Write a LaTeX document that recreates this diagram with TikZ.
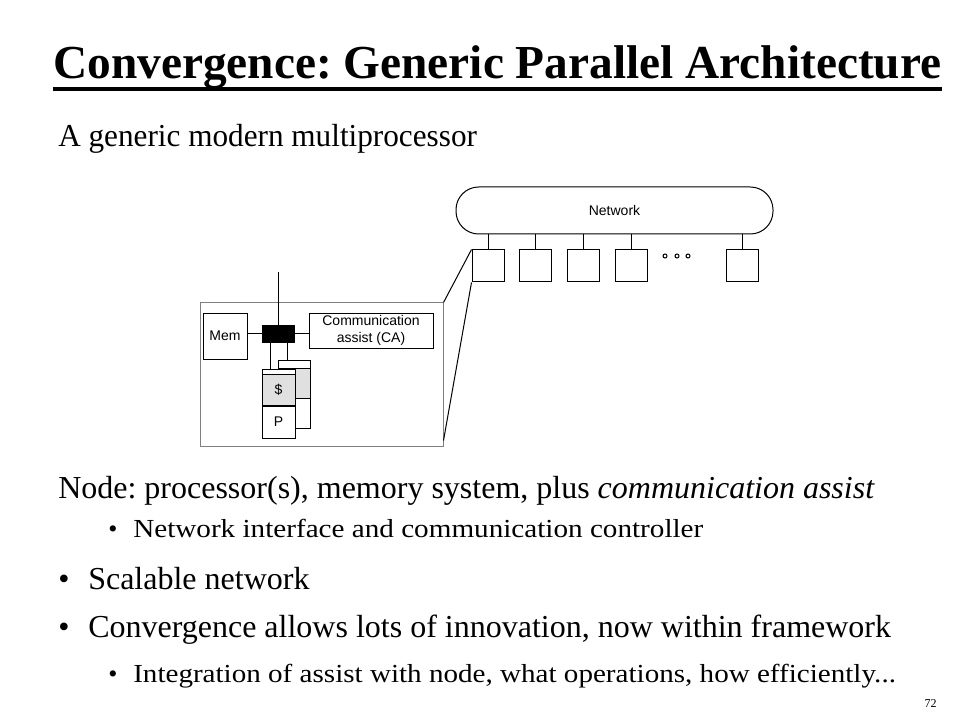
\documentclass[tikz,border=0pt]{standalone}
\usepackage{fontspec}
\usepackage{graphicx}
\setmainfont{Liberation Serif}
\newfontfamily\diagfont{Liberation Sans}
\usepackage{tikz}
\usetikzlibrary{calc}
\frenchspacing
\def\portbox{\node[draw,line width=0.75pt,minimum size=24pt,inner sep=0]}
\def\bulletdot{\node[anchor=base west,inner sep=0]}
\newcommand{\widen}[2]{\resizebox{#1}{\height}{#2}}

\begin{document}
\begin{tikzpicture}[x=0.75pt,y=-0.75pt,
  wire/.style={line width=0.75pt},
  part/.style={draw,line width=0.75pt,inner sep=0,font=\diagfont\fontsize{10.5}{12.5}\selectfont},
  cachecell/.style={part,fill=black!12},
  bigtext/.style={anchor=base west,inner sep=0,font=\fontsize{24}{28}\selectfont},
  smalltext/.style={anchor=base west,inner sep=0,font=\fontsize{19.5}{22}\selectfont}]
\useasboundingbox (0,0) rectangle (960,720);
% title
\node[anchor=base west,inner sep=0,font=\bfseries\fontsize{35.5}{40}\selectfont] (title) at (53,79) {Convergence: Generic Parallel Architecture};
\draw[line width=3pt] ($(title.base west)+(0,10)$) -- ($(title.base east)+(0,10)$);
\node[bigtext] (intro) at (58,147) {\widen{314pt}{A generic modern multiprocessor}};
% network and its ports
\node[part,rounded corners=17pt,minimum width=237.75pt,minimum height=35.25pt] (net) at (614.5,210.5) {Network};
\portbox (p1) at (488,266) {};
\portbox (p2) at (535,266) {};
\portbox (p3) at (583,266) {};
\portbox (p4) at (631,266) {};
\portbox (p5) at (742,266) {};
\foreach \p in {p1,p2,p3,p4,p5}
  \draw[wire] (net.south -| \p) -- (\p.north);
\foreach \x in {665,677,688}
  \draw[wire] (\x,256) circle (1.5pt);
% one node, blown up
\node[draw=black!50,line width=0.75pt,minimum width=182.25pt,minimum height=107.25pt,inner sep=0] (panel) at (321.5,374.5) {};
\draw[wire] (panel.north east) -- (p1.north west);
\draw[wire] ($(panel.south east)+(0,-6)$) -- (p1.south west);
\node[part,minimum width=33pt,minimum height=34.5pt] (mem) at (225,336) {Mem};
\node[draw,fill=black,minimum width=24pt,minimum height=12.75pt,inner sep=0] (bus) at (278,333.5) {};
\node[part,align=center,minimum width=93pt,minimum height=26.25pt] (ca) at (371,330.5) {Communication\\assist (CA)};
\coordinate (busup) at (278,272);
\draw[wire] (busup) -- (bus.north);
\draw[wire] (bus.west) -- (bus.west -| mem.east);
\draw[wire] (bus.east) -- (bus.east -| ca.west);
% back processor
\node[part,fill=white,minimum width=24pt,minimum height=6pt] (strip2) at (294,364) {};
\node[cachecell,minimum width=24pt,minimum height=22.5pt] (cache2) at (294,383) {};
\node[part,minimum width=24pt,minimum height=22.5pt] (proc2) at (294,413) {};
\draw[wire] ([xshift=6.75pt]bus.south) -- ([xshift=6.75pt]bus.south |- strip2.north);
% front processor
\node[part,fill=white,minimum width=24.75pt,minimum height=4.1pt] (strip1) at (278.5,371.75) {};
\node[cachecell,minimum width=24.75pt,minimum height=23.6pt] (cache1) at (278.5,390.25) {\$};
\node[part,fill=white,minimum width=24.75pt,minimum height=24pt] (proc1) at (278.5,422) {P};
\draw[wire] ([xshift=-6pt]bus.south) -- ([xshift=-6pt]bus.south |- strip1.north);
% text below
\node[bigtext] (nodeline) at (58,498) {Node: processor(s), memory system, plus \textit{communication assist}};
\bulletdot[font=\fontsize{19.5}{22}\selectfont] (dot1) at (108,537) {•};
\node[smalltext] (niline) at (133,537) {\widen{427.5pt}{Network interface and communication controller}};
\bulletdot[font=\fontsize{24}{28}\selectfont] (dot2) at (58,589) {•};
\node[bigtext] (scaline) at (88,589) {Scalable network};
\bulletdot[font=\fontsize{24}{28}\selectfont] (dot3) at (58,637) {•};
\node[bigtext] (convline) at (88,637) {Convergence allows lots of innovation, now within framework};
\bulletdot[font=\fontsize{19.5}{22}\selectfont] (dot4) at (108,682) {•};
\node[smalltext] (intline) at (133,682) {\widen{572pt}{Integration of assist with node, what operations, how efficiently...}};
\node[anchor=base east,inner sep=0,font=\fontsize{9}{10}\selectfont] (pagenum) at (937,707) {72};
\end{tikzpicture}
\end{document}
